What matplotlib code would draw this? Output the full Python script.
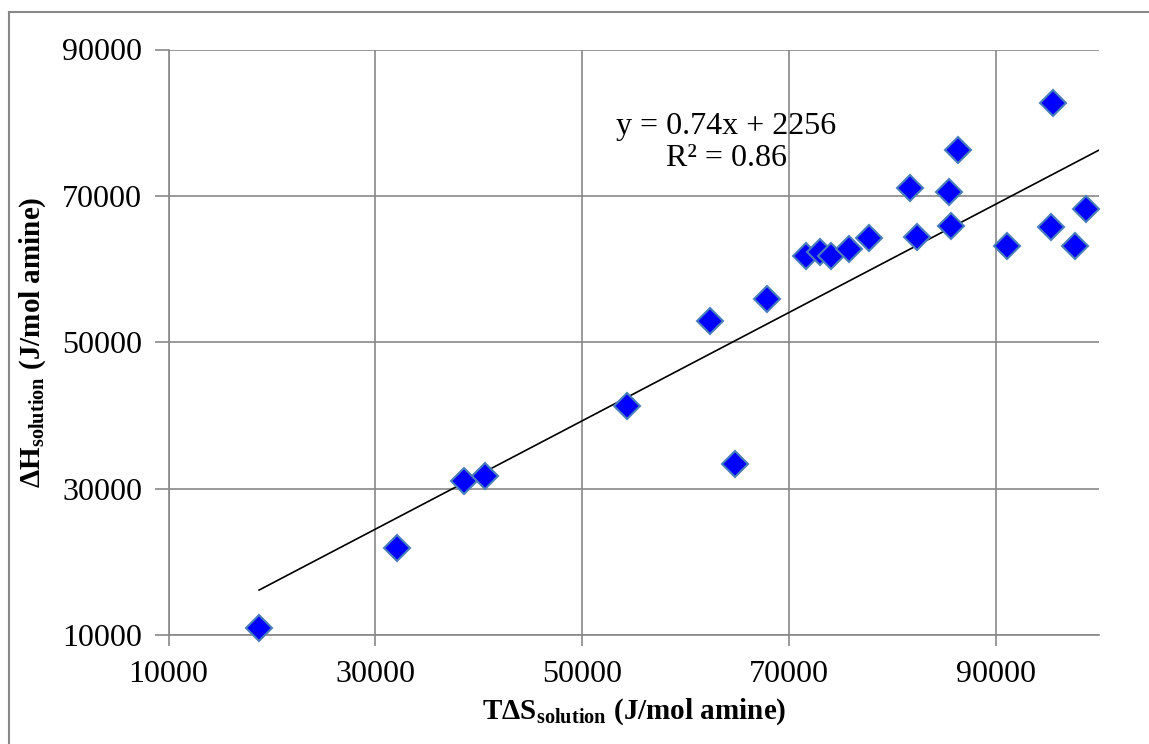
import matplotlib
matplotlib.use('Agg')
import matplotlib.pyplot as plt
import numpy as np

# T*dS (x) and dH (y), J/mol amine
tds = np.array([18760, 32110, 38590, 40620, 54360, 62400, 64810, 67910,
                71680, 73040, 74100, 75850, 77780, 81680, 82400, 85450,
                85680, 86320, 91100, 95520, 95320, 97680, 98780])
dh = np.array([11000, 21890, 31040, 31730, 41290, 52900, 33360, 55910,
               61790, 62330, 61790, 62740, 64240, 71120, 64420, 70530,
               65930, 76270, 63190, 82730, 65790, 63190, 68210])

trend_slope = 0.74
trend_intercept = 2256
r2 = 0.86

xticks = [10000, 30000, 50000, 70000, 90000]
yticks = [10000, 30000, 50000, 70000, 90000]

plt.rcParams['font.family'] = 'Liberation Serif'
plt.rcParams['mathtext.fontset'] = 'custom'
plt.rcParams['mathtext.rm'] = 'Liberation Serif'
plt.rcParams['mathtext.bf'] = 'Liberation Serif:bold'

grid_col = '#888888'

fig = plt.figure(figsize=(11.49, 7.44), dpi=100)
ax = fig.add_axes([168.5 / 1149, 1 - 635 / 744, (1099 - 168.5) / 1149, (635 - 49.5) / 744])

ax.set_xlim(10000, 100000)
ax.set_ylim(10000, 90000)
ax.set_xticks(xticks)
ax.set_yticks(yticks)
ax.grid(True, color=grid_col, linewidth=1.2)
ax.set_axisbelow(True)

for s in ['top', 'right']:
    ax.spines[s].set_visible(False)
for s in ['left', 'bottom']:
    ax.spines[s].set_color(grid_col)
    ax.spines[s].set_linewidth(1.2)
ax.tick_params(axis='both', colors=grid_col, labelcolor='black', labelsize=23,
               width=1.2, length=8, direction='out')
ax.tick_params(axis='y', length=10, pad=9)
ax.tick_params(axis='x', pad=10)

# trendline from smallest x to the right edge
xt = np.array([tds.min(), 100000])
ax.plot(xt, trend_slope * xt + trend_intercept, color='black', linewidth=1.2, zorder=3)

ax.plot(tds, dh, linestyle='none', marker='D', markersize=13,
        markerfacecolor='#0000ff', markeredgecolor='#4a7ebb', markeredgewidth=1.5,
        zorder=4, clip_on=False)

ax.text(63960, 77300, 'y = %.2fx + %d\nR² = %.2f' % (trend_slope, trend_intercept, r2),
        ha='center', va='center', multialignment='center', fontsize=23,
        linespacing=1.15)

ax.set_xlabel(r'TΔS$_{\mathbf{solution}}$ (J/mol amine)', fontsize=21,
              fontweight='bold', labelpad=5)
ax.set_ylabel(r'ΔH$_{\mathbf{solution}}$ (J/mol amine)', fontsize=21,
              fontweight='bold', labelpad=10)

# outer frame (cropped at right and bottom)
fx = 8.5 / 1149
fy = 1 - 11.5 / 744
fig.add_artist(plt.Line2D([fx, fx], [0, fy], color=grid_col, linewidth=1.5))
fig.add_artist(plt.Line2D([fx, 1], [fy, fy], color=grid_col, linewidth=1.5))

fig.savefig('out.png', dpi=100)
